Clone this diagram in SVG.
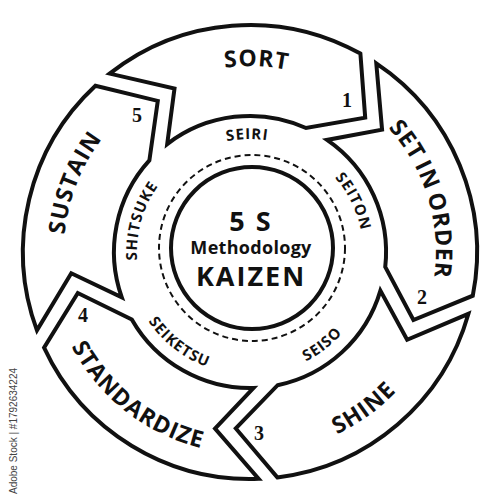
<svg xmlns="http://www.w3.org/2000/svg" xmlns:xlink="http://www.w3.org/1999/xlink" width="500" height="500" viewBox="0 0 500 500">
<style>
.seg{fill:#fff;stroke:#111;stroke-width:4;stroke-linejoin:miter}
.big{font-family:"Open Sans","Noto Sans",sans-serif;font-weight:700;font-size:23px;fill:#111;letter-spacing:1px}
.small{font-family:"Open Sans","Noto Sans",sans-serif;font-weight:700;font-size:15px;fill:#111;letter-spacing:1px}
.num{font-family:"Liberation Serif",serif;font-weight:700;font-size:20px;fill:#111;text-anchor:middle}
.ctr{font-family:"Open Sans","Noto Sans",sans-serif;font-weight:700;fill:#111;text-anchor:middle}
</style>
<defs>
<path id="seg" class="seg" d="M109.6,73.6 A227,227 0 0 1 360.4,53.6 L365.2,117.6 L306.0,128.0 A136,136 0 0 0 167.2,144.1 L174.5,88.6 Z"/>
<path id="pSort" d="M68.1,213.3 A186,186 0 0 1 434.2,226.1"/>
<path id="pSet" d="M227.3,67.4 A186,186 0 0 1 334.4,417.7"/>
<path id="pSustain" d="M152.8,410.6 A186,186 0 0 1 287.1,69.7"/>
<path id="pShine" d="M109.7,397.3 A202,202 0 0 0 431.6,163.4"/>
<path id="pStd" d="M71.6,157.2 A202,202 0 0 0 385.2,402.1"/>
<path id="pSeiri" d="M138.3,235.1 A113,113 0 0 1 360.8,229.7"/>
<path id="pSeiton" d="M218.9,143.4 A113,113 0 0 1 316.4,343.4"/>
<path id="pShitsuke" d="M200.5,353.6 A113,113 0 0 1 261.8,139.6"/>
<path id="pSeiso" d="M167.7,343.4 A123,123 0 0 0 358.6,194.3"/>
<path id="pSeiketsu" d="M141.4,194.3 A123,123 0 0 0 332.3,343.4"/>
</defs>
<rect width="500" height="500" fill="#fff"/>
<g id="connectors"></g>
<g id="step-sort">
<use href="#seg"/>
<text class="big" letter-spacing="2"><textPath href="#pSort" startOffset="50%" text-anchor="middle">SORT</textPath></text>
<text class="num" x="347" y="107">1</text>
<text class="small"><textPath href="#pSeiri" startOffset="50%" text-anchor="middle">SEIRI</textPath></text>
</g>
<g id="step-set-in-order">
<use href="#seg" transform="rotate(72 250 252)"/>
<text class="big" font-size="21.5" letter-spacing="0" word-spacing="-3"><textPath href="#pSet" startOffset="50%" text-anchor="middle">SET IN ORDER</textPath></text>
<text class="num" x="422" y="304">2</text>
<text class="small"><textPath href="#pSeiton" startOffset="50%" text-anchor="middle">SEITON</textPath></text>
</g>
<g id="step-shine">
<use href="#seg" transform="rotate(144 250 252)"/>
<text class="big"><textPath href="#pShine" startOffset="50%" text-anchor="middle">SHINE</textPath></text>
<text class="num" x="259" y="440">3</text>
<text class="small"><textPath href="#pSeiso" startOffset="50%" text-anchor="middle">SEISO</textPath></text>
</g>
<g id="step-standardize">
<use href="#seg" transform="rotate(216 250 252)"/>
<text class="big" letter-spacing="0.3"><textPath href="#pStd" startOffset="50%" text-anchor="middle">STANDARDIZE</textPath></text>
<text class="num" x="83" y="322">4</text>
<text class="small"><textPath href="#pSeiketsu" startOffset="50%" text-anchor="middle">SEIKETSU</textPath></text>
</g>
<g id="step-sustain">
<use href="#seg" transform="rotate(288 250 252)"/>
<text class="big"><textPath href="#pSustain" startOffset="50%" text-anchor="middle">SUSTAIN</textPath></text>
<text class="num" x="137" y="122">5</text>
<text class="small"><textPath href="#pShitsuke" startOffset="50%" text-anchor="middle">SHITSUKE</textPath></text>
</g>
<g id="center">
<circle cx="252" cy="248" r="93" fill="none" stroke="#111" stroke-width="2" stroke-dasharray="6 4"/>
<circle cx="252" cy="248" r="81" fill="#fff" stroke="#111" stroke-width="4"/>
<text class="ctr" x="251" y="231" font-size="27" letter-spacing="2">5 S</text>
<text class="ctr" x="251" y="254" font-size="18" letter-spacing="0.3">Methodology</text>
<text class="ctr" x="251" y="286" font-size="27" letter-spacing="2">KAIZEN</text>
</g>
<text transform="translate(17,431) rotate(-90)" text-anchor="middle" font-family="Liberation Sans, sans-serif" font-size="10" fill="#444">Adobe Stock | #1792634224</text>
</svg>
